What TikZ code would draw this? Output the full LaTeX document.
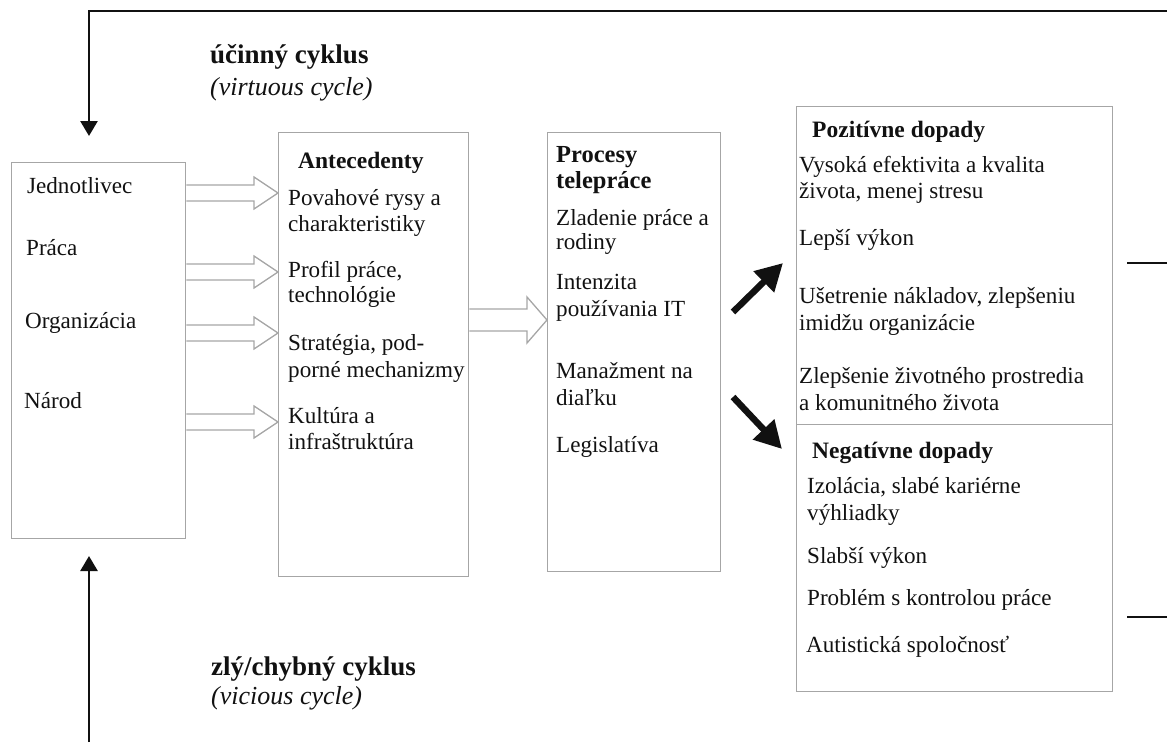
\documentclass[tikz,border=0pt]{standalone}
\usepackage{fontspec}
\setmainfont{Liberation Serif}
\usetikzlibrary{arrows.meta}
\definecolor{boxgray}{HTML}{A6A6A6}
\definecolor{ink}{HTML}{111111}
\begin{document}
\begin{tikzpicture}[x=1pt,y=-1pt,
  box/.style={draw=boxgray, line width=1.3pt, inner sep=0pt, anchor=north west},
  txt/.style={anchor=base west, inner sep=0pt, text=ink, font=\fontsize{23.1}{27}\selectfont},
  hd/.style={anchor=base west, inner sep=0pt, text=ink, font=\fontsize{23.5}{26}\selectfont\bfseries},
  lbl/.style={anchor=base west, inner sep=0pt, text=ink, font=\fontsize{27}{30}\selectfont\bfseries},
  lbli/.style={anchor=base west, inner sep=0pt, text=ink, font=\fontsize{26}{30}\selectfont\itshape},
  hollow/.style={draw=boxgray, line width=1.3pt, line join=miter},
  bigarrow/.style={line width=6.5pt, draw=ink, -{Triangle[length=27pt,width=28pt]}},
  loop/.style={line width=2.6pt, draw=ink},
  loophead/.style={line width=2.6pt, draw=ink, -{Triangle[length=15pt,width=17pt]}}]
\useasboundingbox (0,0) rectangle (1167,742);

% boxes
\node[box, minimum width=174pt, minimum height=376pt] (L) at (11,162) {};
\node[box, minimum width=190pt, minimum height=444pt] (A) at (278,132) {};
\node[box, minimum width=173pt, minimum height=439pt] (P) at (547,132) {};
\node[box, minimum width=316pt, minimum height=318pt] (Pos) at (796,106) {};
\node[box, minimum width=316pt, minimum height=267pt] (Neg) at (796,424) {};

% left box texts
\node[txt] (l1) at (27,193) {Jednotlivec};
\node[txt] (l2) at (26,255) {Práca};
\node[txt] (l3) at (25,328) {Organizácia};
\node[txt] (l4) at (24,408) {Národ};

% antecedenty
\node[hd] (ah) at (298,168) {Antecedenty};
\node[txt] (a1) at (288,205) {Povahové rysy a};
\node[txt] (a1b) at (288,231) {charakteristiky};
\node[txt] (a2) at (288,277) {Profil práce,};
\node[txt] (a2b) at (288,302) {technológie};
\node[txt] (a3) at (288,350) {Stratégia, pod-};
\node[txt] (a3b) at (288,377) {porné mechanizmy};
\node[txt] (a4) at (288,423) {Kultúra a};
\node[txt] (a4b) at (288,449) {infraštruktúra};

% procesy
\node[hd, font=\fontsize{24.5}{26}\selectfont\bfseries] (ph) at (556,162) {Procesy};
\node[hd, font=\fontsize{24.5}{26}\selectfont\bfseries] (phb) at (556,188) {telepráce};
\node[txt] (p1) at (556,225) {Zladenie práce a};
\node[txt] (p1b) at (556,249) {rodiny};
\node[txt] (p2) at (556,289) {Intenzita};
\node[txt] (p2b) at (556,316) {používania IT};
\node[txt] (p3) at (556,378) {Manažment na};
\node[txt] (p3b) at (556,405) {diaľku};
\node[txt] (p4) at (556,452) {Legislatíva};

% positive
\node[hd] (posh) at (812,137) {Pozitívne dopady};
\node[txt] (o1) at (799,172) {Vysoká efektivita a kvalita};
\node[txt] (o1b) at (799,198) {života, menej stresu};
\node[txt] (o2) at (799,245) {Lepší výkon};
\node[txt] (o3) at (799,303) {Ušetrenie nákladov, zlepšeniu};
\node[txt] (o3b) at (799,330) {imidžu organizácie};
\node[txt] (o4) at (799,383) {Zlepšenie životného prostredia};
\node[txt] (o4b) at (799,410) {a komunitného života};

% negative
\node[hd] (negh) at (812,458) {Negatívne dopady};
\node[txt] (n1) at (807,493) {Izolácia, slabé kariérne};
\node[txt] (n1b) at (807,520) {výhliadky};
\node[txt] (n2) at (807,563) {Slabší výkon};
\node[txt] (n3) at (807,605) {Problém s kontrolou práce};
\node[txt] (n4) at (806,652) {Autistická spoločnosť};

% cycle labels
\node[lbl] (vc) at (210,63) {účinný cyklus};
\node[lbli] (vce) at (210,95) {(virtuous cycle)};
\node[lbl] (xc) at (211,675) {zlý/chybný cyklus};
\node[lbli] (xce) at (211,704) {(vicious cycle)};

% hollow block arrows left -> antecedenty
\foreach \c in {193,272,333,422}{
  \draw[hollow] (L.east |- 0,\c-8) -- (254,\c-8) -- (254,\c-16) -- (A.west |- 0,\c)
     -- (254,\c+16) -- (254,\c+8) -- (L.east |- 0,\c+8);
}
% antecedenty -> procesy
\draw[hollow] (A.east |- 0,309) -- (527,309) -- (527,297) -- (P.west |- 0,320)
   -- (527,343) -- (527,331) -- (A.east |- 0,331);

% black arrows
\coordinate (u1) at (733,312);
\coordinate (u2) at (783,263);
\coordinate (d1) at (733,397);
\coordinate (d2) at (782,449);
\draw[bigarrow] (u1) -- (u2);
\draw[bigarrow] (d1) -- (d2);

% feedback loops
\coordinate (topR) at (1167,11);
\coordinate (topL) at (89,11);
\coordinate (topT) at (89,136);
\draw[loophead] (topR) -- (topL) -- (topT);
\coordinate (botS) at (89,742);
\coordinate (botT) at (89,556);
\draw[loophead] (botS) -- (botT);
\coordinate (r1a) at (1127,263);
\coordinate (r1b) at (1167,263);
\coordinate (r2a) at (1127,617);
\coordinate (r2b) at (1167,617);
\draw[loop] (r1a) -- (r1b);
\draw[loop] (r2a) -- (r2b);
\end{tikzpicture}
\end{document}
